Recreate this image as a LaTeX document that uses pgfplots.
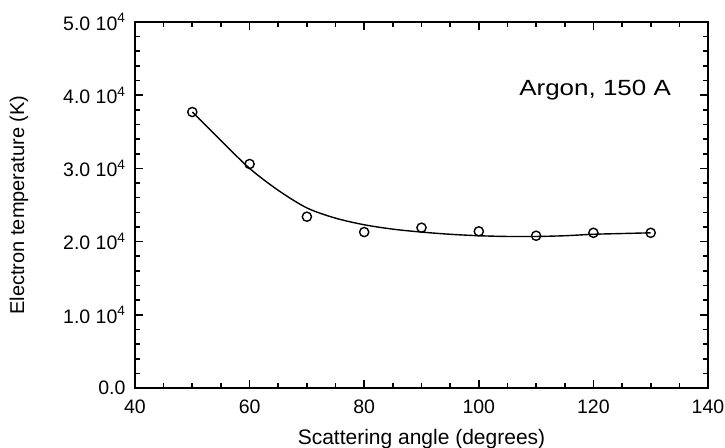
\documentclass[border=0pt]{standalone}
\usepackage{fontspec}
\setmainfont{Liberation Sans}
\usepackage{graphicx}
\usepackage{pgfplots}
\pgfplotsset{compat=1.18}
\begin{document}
\begin{tikzpicture}
\begin{axis}[
  scale only axis,
  width=573pt, height=366pt,
  xmin=40, xmax=140, ymin=0, ymax=50000,
  xtick={40,60,...,140},
  minor x tick num=3,
  ytick={0,10000,20000,30000,40000,50000},
  yticklabels={0.0,{1.0 10\textsuperscript{4}},{2.0 10\textsuperscript{4}},{3.0 10\textsuperscript{4}},{4.0 10\textsuperscript{4}},{5.0 10\textsuperscript{4}}},
  minor y tick num=4,
  scaled y ticks=false,
  tick align=inside,
  tick pos=both,
  major tick length=8pt,
  minor tick length=5pt,
  every tick/.style={black, line width=1.6pt},
  axis line style={line width=2.4pt},
  /pgf/number format/assume math mode=true,
  ticklabel style={font=\fontsize{19.5}{22}\selectfont},
  xticklabel style={yshift=-8pt},
  yticklabel style={xshift=-6pt},
  xlabel={Scattering angle (degrees)},
  ylabel={Electron temperature (K)},
  xlabel style={font=\fontsize{21}{24}\selectfont, yshift=-9pt},
  ylabel style={font=\fontsize{20}{24}\selectfont, yshift=28pt},
]
\addplot[black, line width=1.4pt, smooth] coordinates {
 (50,37700) (55,33800) (60,30000) (65,27000) (70,24600) (75,23200)
 (80,22300) (85,21700) (90,21300) (95,21000) (100,20800) (105,20700)
 (110,20700) (115,20800) (120,21000) (125,21100) (130,21200)
};
\addplot[only marks, mark=o, mark size=4.6pt, mark options={line width=1.4pt, black}] coordinates {
 (50,37700) (60,30600) (70,23400) (80,21300) (90,21900) (100,21400) (110,20800) (120,21200) (130,21200)
};
\node[anchor=base, inner sep=0pt, font=\fontsize{22}{26}\selectfont] at (axis cs:120.3,40000) {\scalebox{1.18}[1]{Argon, 150 A}};
\coordinate (sw) at (rel axis cs:0,0);
\coordinate (ne) at (rel axis cs:1,1);
\end{axis}
\pgfresetboundingbox
\path ([shift={(-135pt,-60pt)}]sw) rectangle ([shift={(17pt,22pt)}]ne);
\end{tikzpicture}
\end{document}
